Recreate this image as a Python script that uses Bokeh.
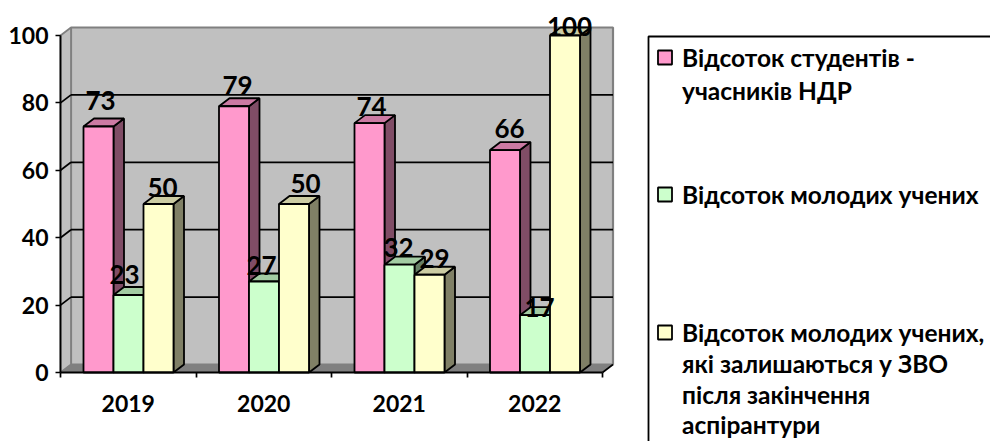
from bokeh.embed import file_html
from bokeh.resources import INLINE
from bokeh.plotting import figure
from bokeh.models import Range1d, FixedTicker, ColumnDataSource
from bokeh.core.properties import value

# --- data ---
years = ["2019", "2020", "2021", "2022"]
students = [73, 79, 74, 66]
young = [23, 27, 32, 17]
stay = [50, 50, 29, 100]
y_ticks = [0, 20, 40, 60, 80, 100]
legend_lines = [
    ["Відсоток студентів -", "учасників НДР"],
    ["Відсоток молодих  учених"],
    ["Відсоток молодих учених,", "які залишаються у ЗВО", "після закінчення", "аспірантури"],
]

# --- styles ---
FONT = "Lato"
front_colors = ["#FF99CC", "#CCFFCC", "#FFFFCC"]
side_colors = ["#804D66", "#668066", "#808066"]
top_colors = ["#CC7AA3", "#A3CCA3", "#CCCCA3"]

# --- layout (pixels of the page) ---
W, H = 990, 441
X0, Y0 = 60, 372
PX_CAT = 135.5
PX_UNIT = 3.37
DX_PX, DY_PX = 10.5, 8
GAP_PX, BAR_PX = 23, 30


def px_x(px):
    return (px - X0) / PX_CAT


def px_y(py):
    return (Y0 - py) / PX_UNIT


dx = DX_PX / PX_CAT
dy = DY_PX / PX_UNIT
bar_w = BAR_PX / PX_CAT
gap = GAP_PX / PX_CAT
n = len(years)

p = figure(width=W, height=H, output_backend="svg", toolbar_location=None,
           x_range=Range1d(px_x(0), px_x(W)), y_range=Range1d(px_y(H), px_y(0)),
           min_border=0, outline_line_color=None, background_fill_color="white",
           border_fill_color="white")
p.styles = {"position": "absolute", "left": "0px", "top": "0px"}
p.grid.visible = False

# walls and floor
ymax = y_ticks[-1]
p.patch([dx, n + dx, n + dx, dx], [dy, dy, ymax + dy, ymax + dy],
        fill_color="#C0C0C0", line_color="#808080", line_width=2.2)
p.patch([0, dx, dx, 0], [0, dy, ymax + dy, ymax],
        fill_color="#C0C0C0", line_color="#808080", line_width=1.8)
p.patch([0, dx, n + dx, n], [0, dy, dy, 0],
        fill_color="#808080", line_color="#808080", line_width=1)

# gridlines on the wall and their diagonals on the side wall
grid = [t for t in y_ticks if 0 < t < ymax]
p.segment([dx] * len(grid), [t + dy for t in grid], [n + dx] * len(grid), [t + dy for t in grid],
          line_color="black", line_width=1.7)
p.segment([0] * len(grid), grid, [dx] * len(grid), [t + dy for t in grid],
          line_color="black", line_width=1.7)
p.segment([n], [0], [n + dx], [dy], line_color="black", line_width=1.7)

# bars
series = [students, young, stay]
for s, vals in enumerate(series):
    lefts = [i + gap + s * bar_w for i in range(n)]
    rights = [l + bar_w for l in lefts]
    p.patches([[r, r + dx, r + dx, r] for r in rights],
              [[0, dy, v + dy, v] for v in vals],
              fill_color=side_colors[s], line_color="black", line_width=1.8)
    p.patches([[l, l + dx, r + dx, r] for l, r in zip(lefts, rights)],
              [[v, v + dy, v + dy, v] for v in vals],
              fill_color=top_colors[s], line_color="black", line_width=1.8)
    p.vbar(x=[l + bar_w / 2 for l in lefts], width=bar_w, top=vals, bottom=0,
           fill_color=front_colors[s], line_color="black", line_width=1.8)

# data labels: hand-placed in the reference, offsets in pixels from each bar's top centre
label_dx = [[2, 3.5, 2, 4.5], [-4, -2.5, -1, 4.5], [4, 11.5, 5, 4.5]]
label_dy = [[26, 20.8, 16.6, 21.6], [20.5, 16, 17.2, 7.7], [16.5, 20.5, 16.3, 9]]
xs, ys, txt, xo, yo = [], [], [], [], []
for s, vals in enumerate(series):
    for i, v in enumerate(vals):
        xs.append(i + gap + (s + 0.5) * bar_w)
        ys.append(v)
        txt.append(str(v))
        xo.append(label_dx[s][i])
        yo.append(-label_dy[s][i])
p.text(x="x", y="y", text="t", x_offset="xo", y_offset="yo",
       source=ColumnDataSource(dict(x=xs, y=ys, t=txt, xo=xo, yo=yo)),
       text_font=value(FONT), text_font_style="bold", text_font_size="26px",
       text_color="black", text_align="center", text_baseline="middle")

# axes
ax = p.xaxis[0]
ax.fixed_location = 0
ax.bounds = (0, n)
ax.ticker = FixedTicker(ticks=[i + 0.5 for i in range(n)], minor_ticks=list(range(n + 1)))
ax.major_label_overrides = {i + 0.5: y for i, y in enumerate(years)}
ax.major_tick_out = 0
ax.major_tick_in = 0
ax.minor_tick_out = 5
ax.minor_tick_in = 0
ax.minor_tick_line_color = "black"
ax.minor_tick_line_width = 1.7
ax.axis_line_color = "black"
ax.axis_line_width = 1.8
ax.major_label_standoff = 17
ax.major_label_text_font = FONT
ax.major_label_text_font_style = "bold"
ax.major_label_text_font_size = "23px"
ax.major_label_text_color = "black"

ay = p.yaxis[0]
ay.fixed_location = 0
ay.bounds = (0, ymax)
ay.ticker = FixedTicker(ticks=y_ticks)
ay.minor_tick_line_color = None
ay.major_tick_out = 5
ay.major_tick_in = 0
ay.major_tick_line_color = "black"
ay.major_tick_line_width = 1.7
ay.axis_line_color = "black"
ay.axis_line_width = 1.8
ay.major_label_standoff = 7
ay.major_label_text_font = FONT
ay.major_label_text_font_style = "bold"
ay.major_label_text_font_size = "23px"
ay.major_label_text_color = "black"

# legend drawn by hand: its entries are unevenly spaced and wrapped over several lines
LEG_L, LEG_T = 648, 36
p.patch([px_x(LEG_L), px_x(W + 10), px_x(W + 10), px_x(LEG_L)],
        [px_y(LEG_T), px_y(LEG_T), px_y(H + 10), px_y(H + 10)],
        fill_color="white", line_color="black", line_width=1.8)
swatch_cy = [57, 194, 332]
line_cy = [[57, 90], [194], [332, 363, 394, 424]]
for s in range(3):
    p.rect([px_x(664.5)], [px_y(swatch_cy[s])], width=14 / PX_CAT, height=14 / PX_UNIT,
           fill_color=front_colors[s], line_color="black", line_width=1.8)
    p.text([px_x(681.5)] * len(line_cy[s]), [px_y(b) for b in line_cy[s]], text=legend_lines[s],
           text_font=value(FONT), text_font_style="bold", text_font_size="24.5px",
           text_color="black", text_align="left", text_baseline="middle")

open("out.html", "w").write(file_html(p, INLINE))
